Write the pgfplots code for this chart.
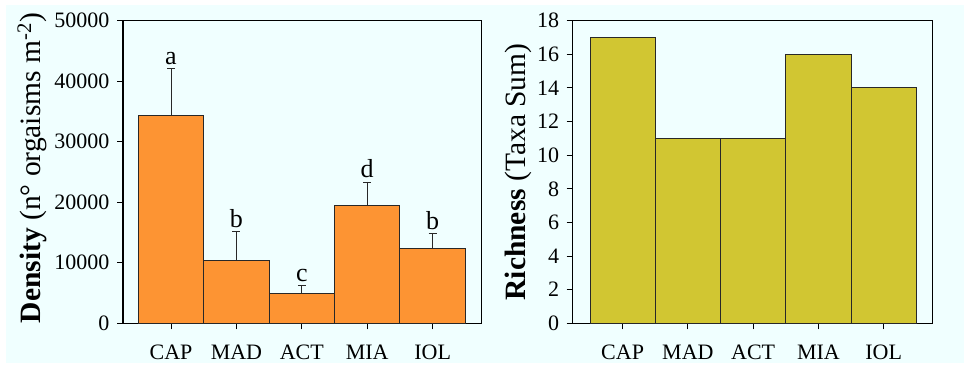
\documentclass[border=0pt]{standalone}
\usepackage{pgfplots}
\pgfplotsset{compat=1.18}
\usepackage{pgfplotstable}
\usepackage{fontspec}
\setmainfont{Liberation Serif}

\definecolor{bgcyan}{RGB}{240,255,255}
\definecolor{barorange}{RGB}{253,148,51}
\definecolor{barolive}{RGB}{209,198,50}
\definecolor{edgegray}{RGB}{40,40,40}

% Density (mean, upper error) and significance letters per site
\pgfplotstableread{
x  dens   err   lab
0  34300  7800  a
1  10450  4700  b
2  4950   1250  c
3  19500  3850  d
4  12400  2400  b
}\densitytable

% Taxa richness per site
\pgfplotstableread{
x  rich
0  17
1  11
2  11
3  16
4  14
}\richtable

\pgfplotsset{
  panel/.style={
    scale only axis, anchor=south west,
    axis line style={line width=1.1bp, black},
    tick align=outside, major tick length=6bp,
    xtick pos=bottom, ytick pos=left,
    tick style={line width=1bp, black},
    xtick={0,...,4}, xticklabels={CAP,MAD,ACT,MIA,IOL},
    ymin=0, scaled y ticks=false,
    /pgf/number format/assume math mode=true,
    /pgf/number format/1000 sep={},
    tick label style={font=\fontsize{22bp}{26bp}\selectfont},
    xticklabel style={yshift=-12bp},
    yticklabel style={xshift=-4bp},
    y label style={font=\fontsize{29.5bp}{34bp}\selectfont, anchor=center},
  }
}

\begin{document}
\begin{tikzpicture}[x=1bp,y=1bp]
\useasboundingbox (0,0) rectangle (964,365);
\fill[white] (0,0) rectangle (964,365);
\fill[bgcyan] (6,2) rectangle (964,360);

% Density panel
\begin{axis}[panel,
  at={(123bp,41.7bp)}, width=358.7bp, height=302.6bp,
  xmin=-0.734, xmax=4.75, ymax=50000,
  ytick={0,10000,...,50000},
  ylabel={\textbf{Density} (n° orgaisms m\textsuperscript{-2})},
  y label style={at={(axis description cs:-0.2537,0.513)}},
]
\addplot[ybar, bar width=1, fill=barorange, draw=edgegray, line width=0.9bp,
  error bars/.cd, y dir=plus, y explicit,
  error bar style={line width=0.9bp, edgegray},
  error mark options={rotate=90, mark size=4bp, line width=0.9bp, edgegray}]
  table[x=x, y=dens, y error=err] {\densitytable};
\addplot[draw=none, mark=none, nodes near coords, point meta=explicit symbolic,
  every node near coord/.style={anchor=south, inner sep=0pt, yshift=4bp,
    font=\fontsize{26bp}{30bp}\selectfont, text=black}]
  table[x=x, y expr=\thisrow{dens}+\thisrow{err}, meta=lab] {\densitytable};
\end{axis}

% Richness panel
\begin{axis}[panel,
  at={(572.7bp,41.7bp)}, width=360bp, height=302.6bp,
  xmin=-0.765, xmax=4.751, ymax=18,
  ytick={0,2,...,18},
  ylabel={\textbf{Richness} (Taxa Sum)},
  y label style={at={(axis description cs:-0.152,0.5)}},
]
\addplot[ybar, bar width=1, fill=barolive, draw=edgegray, line width=0.9bp]
  table[x=x, y=rich] {\richtable};
\end{axis}
\end{tikzpicture}
\end{document}
